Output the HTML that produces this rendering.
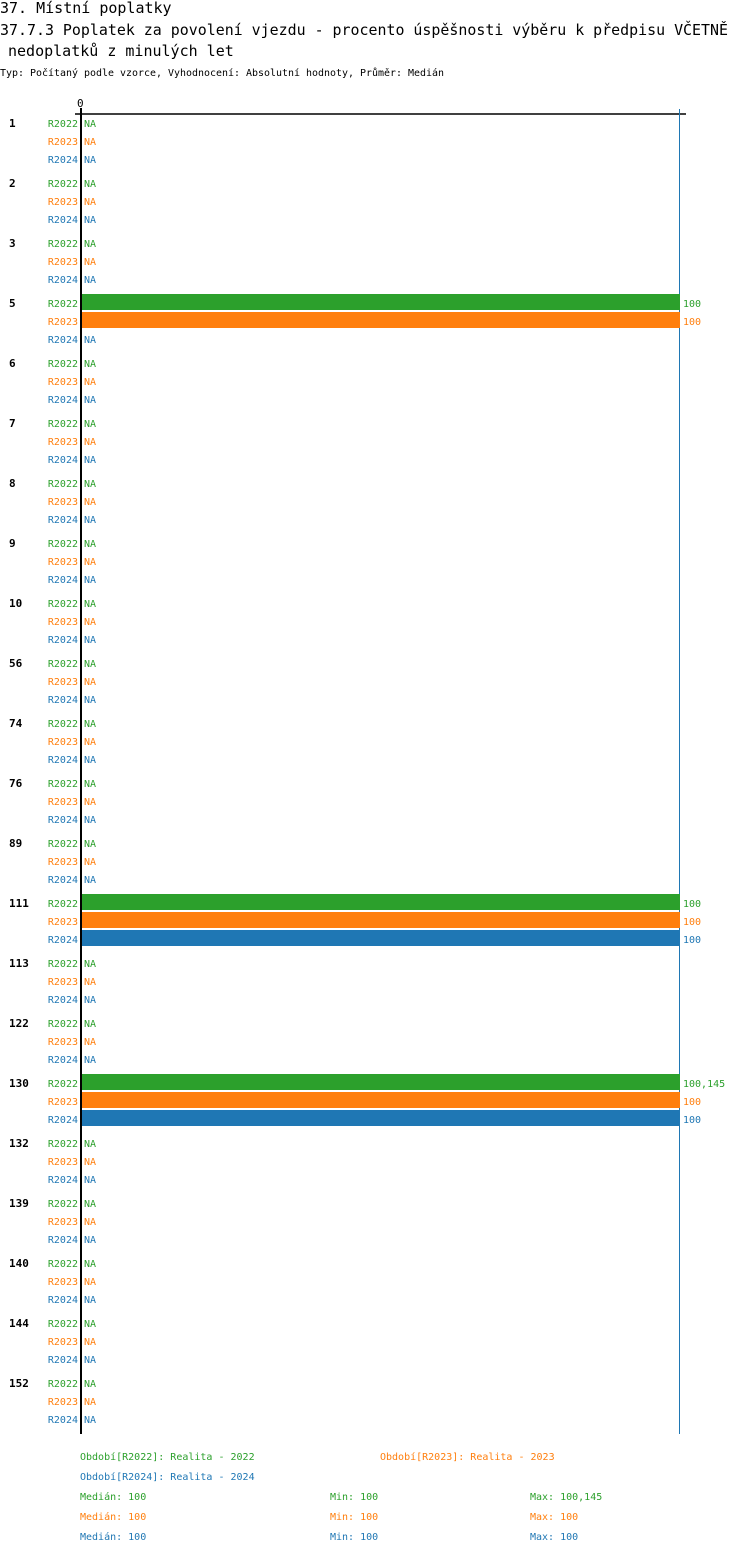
<!DOCTYPE html>
<html><head><meta charset="utf-8"><style>
body{margin:0;background:#fff;width:750px;height:1554px;overflow:hidden;font-family:"DejaVu Sans Mono","Liberation Mono",monospace}
svg text{font-family:"DejaVu Sans Mono","Liberation Mono",monospace}
</style></head><body>
<svg id="c" width="750" height="1554">
<text x="0" y="13" font-size="15">37. Místní poplatky</text>
<text x="0" y="35" font-size="15" textLength="728" lengthAdjust="spacingAndGlyphs">37.7.3 Poplatek za povolení vjezdu - procento úspěšnosti výběru k předpisu VČETNĚ</text>
<text x="8" y="56" font-size="15">nedoplatků z minulých let</text>
<text x="0" y="76" font-size="10" textLength="444" lengthAdjust="spacingAndGlyphs">Typ: Počítaný podle vzorce, Vyhodnocení: Absolutní hodnoty, Průměr: Medián</text>
<text x="77" y="107" font-size="11">0</text>
<line x1="75" y1="114" x2="686" y2="114" stroke="#000" stroke-width="1.5"/>
<line x1="679.5" y1="109" x2="679.5" y2="1434" stroke="#1f77b4" stroke-width="1"/>
<g id="marks"></g>
<line x1="81" y1="108" x2="81" y2="1434" stroke="#000" stroke-width="2"/>
<g font-size="10">
<text x="80" y="1460" fill="#2ca02c">Období[R2022]: Realita - 2022</text>
<text x="380" y="1460" fill="#ff7f0e">Období[R2023]: Realita - 2023</text>
<text x="80" y="1480" fill="#1f77b4">Období[R2024]: Realita - 2024</text>
<text x="80" y="1500" fill="#2ca02c">Medián: 100</text>
<text x="330" y="1500" fill="#2ca02c">Min: 100</text>
<text x="530" y="1500" fill="#2ca02c">Max: 100,145</text>
<text x="80" y="1520" fill="#ff7f0e">Medián: 100</text>
<text x="330" y="1520" fill="#ff7f0e">Min: 100</text>
<text x="530" y="1520" fill="#ff7f0e">Max: 100</text>
<text x="80" y="1540" fill="#1f77b4">Medián: 100</text>
<text x="330" y="1540" fill="#1f77b4">Min: 100</text>
<text x="530" y="1540" fill="#1f77b4">Max: 100</text>
</g>
</svg>
<script>
const categories=["1","2","3","5","6","7","8","9","10","56","74","76","89","111","113","122","130","132","139","140","144","152"];
const series=["R2022","R2023","R2024"];
const r2022=[null,null,null,100,null,null,null,null,null,null,null,null,null,100,null,null,100.145,null,null,null,null,null];
const r2023=[null,null,null,100,null,null,null,null,null,null,null,null,null,100,null,null,100,null,null,null,null,null];
const r2024=[null,null,null,null,null,null,null,null,null,null,null,null,null,100,null,null,100,null,null,null,null,null];
const labels2022=["NA","NA","NA","100","NA","NA","NA","NA","NA","NA","NA","NA","NA","100","NA","NA","100,145","NA","NA","NA","NA","NA"];
const colors=["#2ca02c","#ff7f0e","#1f77b4"];
const vals=[r2022,r2023,r2024];
const NS="http://www.w3.org/2000/svg";
const g=document.getElementById('marks');
const x0=82,x1=680,vmax=100;
function xs(v){return x0+Math.min(v,vmax)/vmax*(x1-x0);}
function ys(ci,si){return 123+ci*60+si*18;}
function mk(t,a){const e=document.createElementNS(NS,t);for(const k in a)e.setAttribute(k,a[k]);g.appendChild(e);return e;}
categories.forEach((c,ci)=>{
  const t=mk('text',{x:9,y:ys(ci,0)+4,'font-size':11,'font-weight':'bold'});
  t.textContent=c;
  
  
  series.forEach((s,si)=>{
    const y=ys(ci,si),v=vals[si][ci];
    const l=mk('text',{x:78,y:y+4,'font-size':10,fill:colors[si],'text-anchor':'end'});
    l.textContent=s;
    
    
    if(v==null){
      const n=mk('text',{x:84,y:y+4,'font-size':10,fill:colors[si]});
      n.textContent='NA';
      
      
    }else{
      const r=mk('rect',{x:x0,y:y-9,width:xs(v)-x0,height:16,fill:colors[si]});
      
      
      const n=mk('text',{x:xs(v)+3,y:y+4,'font-size':10,fill:colors[si]});
      n.textContent=si==0?labels2022[ci]:String(v);
      
      
    }
  });
});
</script>
</body></html>
